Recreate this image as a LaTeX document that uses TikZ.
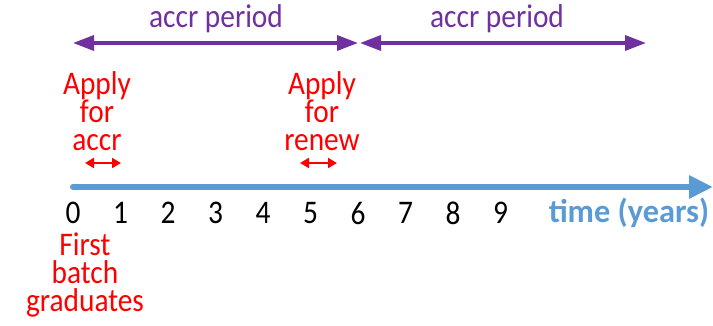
\documentclass[tikz,border=0pt]{standalone}
\usepackage{fontspec}
\setmainfont{Carlito}
\usetikzlibrary{arrows.meta}
\definecolor{axisblue}{RGB}{91,155,213}
\definecolor{perpurple}{RGB}{112,48,160}
\definecolor{redtxt}{RGB}{255,0,0}
\newcommand\tallt[1]{\scalebox{0.98}[1.1]{#1}}
\begin{document}
\begin{tikzpicture}[x=1pt,y=-1pt,
  txt/.style={font=\fontsize{30}{28}\selectfont, inner sep=0pt, align=center},
  axisline/.style={draw=axisblue, line width=6pt, line cap=round, -{Triangle[length=24pt,width=22pt]}},
  periodarrow/.style={draw=perpurple, line width=3.5pt, {Triangle[length=21pt,width=15pt]}-{Triangle[length=21pt,width=15pt]}},
  applyarrow/.style={draw=redtxt, line width=2pt, {Triangle[length=9pt,width=10pt]}-{Triangle[length=9pt,width=10pt]}}
]
\useasboundingbox (0,0) rectangle (713,326);
% axis
\coordinate (ax0) at (73,187);
\coordinate (ax1) at (713,187);
\draw[axisline] (ax0) -- (ax1);
% tick labels
\foreach \i in {0,...,9}{
  \node[txt, text=black] (n\i) at ({73+47.5*\i},213) {\tallt{\i}};
}
\node[txt, text=axisblue, font=\fontsize{30}{28}\selectfont\bfseries] (tlabel) at (629,213) {\scalebox{1.08}[1.1]{time (years)}};
% period arrows
\coordinate (p0) at (73,43);
\coordinate (p1) at (358,43);
\coordinate (p2) at (360,43);
\coordinate (p3) at (646,43);
\draw[periodarrow] (p0) -- (p1);
\draw[periodarrow] (p2) -- (p3);
\node[txt, text=perpurple] (per1) at (216,19) {\tallt{accr period}};
\node[txt, text=perpurple] (per2) at (497,19) {\tallt{accr period}};
% apply labels
\node[txt, text=redtxt] (app1) at (97,111) {\tallt{Apply}\\\tallt{for}\\\tallt{accr}};
\node[txt, text=redtxt] (app2) at (322,111) {\tallt{Apply}\\\tallt{for}\\\tallt{renew}};
\coordinate (r0) at (85,163);
\coordinate (r1) at (121,163);
\coordinate (r2) at (300,163);
\coordinate (r3) at (337,163);
\draw[applyarrow] (r0) -- (r1);
\draw[applyarrow] (r2) -- (r3);
% first batch
\node[txt, text=redtxt] (first) at (85,275) {\tallt{First}\\\tallt{batch}\\\tallt{graduates}};
\end{tikzpicture}
\end{document}
